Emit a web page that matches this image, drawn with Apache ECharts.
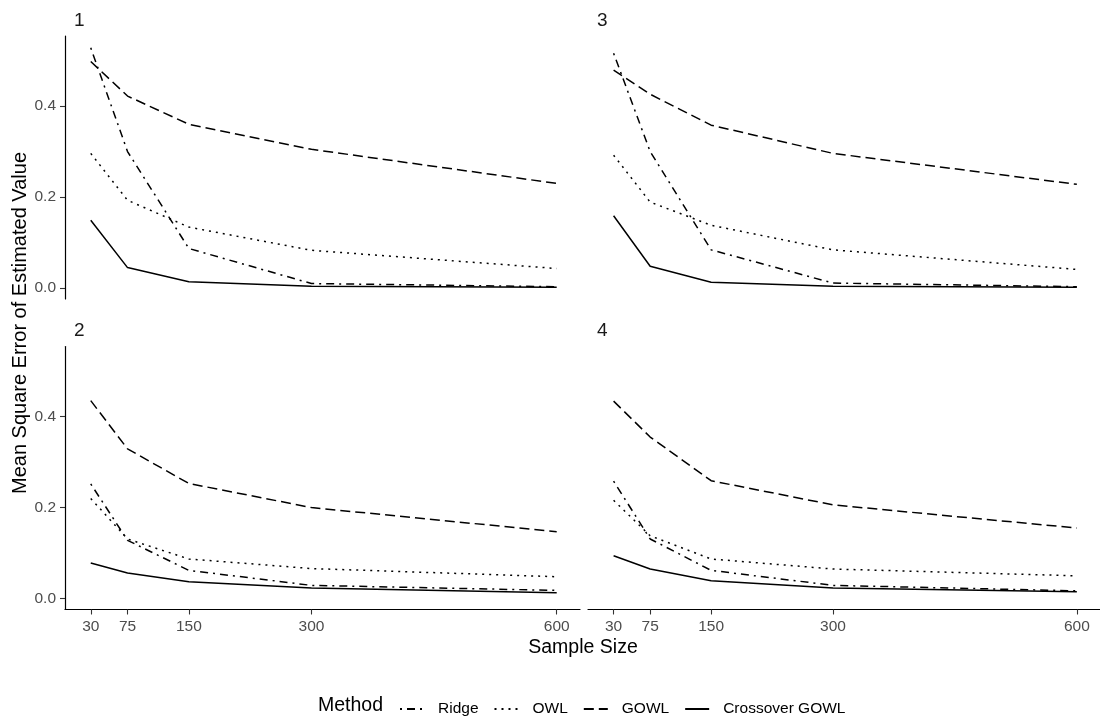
<!DOCTYPE html>
<html>
<head>
<meta charset="utf-8">
<title>Mean Square Error of Estimated Value</title>
<script src="https://cdn.jsdelivr.net/npm/echarts@6/dist/echarts.min.js"></script>
<style>
html, body { margin: 0; padding: 0; background: #fff; }
#chart { width: 1100px; height: 717px; }
</style>
</head>
<body>
<div id="chart"></div>
<script>
// sample sizes on the x axis
const sampleSizes = [30, 75, 150, 300, 600]
const yTicks = [0, 0.2, 0.4]
const methods = ['Ridge', 'OWL', 'GOWL', 'Crossover GOWL']
const panelLabels = ['1', '2', '3', '4']

// panel 1
const ridge1 = [0.528, 0.300, 0.087, 0.010, 0.003]
const owl1 = [0.296, 0.193, 0.134, 0.083, 0.043]
const gowl1 = [0.498, 0.422, 0.360, 0.305, 0.230]
const cross1 = [0.149, 0.045, 0.014, 0.004, 0.002]
// panel 2
const ridge2 = [0.252, 0.128, 0.062, 0.029, 0.018]
const owl2 = [0.220, 0.131, 0.087, 0.066, 0.048]
const gowl2 = [0.435, 0.329, 0.253, 0.200, 0.147]
const cross2 = [0.078, 0.056, 0.037, 0.023, 0.013]
// panel 3
const ridge3 = [0.516, 0.300, 0.084, 0.011, 0.003]
const owl3 = [0.292, 0.189, 0.138, 0.084, 0.041]
const gowl3 = [0.479, 0.426, 0.358, 0.296, 0.228]
const cross3 = [0.159, 0.048, 0.013, 0.004, 0.002]
// panel 4
const ridge4 = [0.258, 0.131, 0.062, 0.029, 0.017]
const owl4 = [0.216, 0.138, 0.087, 0.065, 0.050]
const gowl4 = [0.434, 0.355, 0.259, 0.206, 0.155]
const cross4 = [0.094, 0.065, 0.039, 0.023, 0.015]

const panelData = [
  [ridge1, owl1, gowl1, cross1],
  [ridge2, owl2, gowl2, cross2],
  [ridge3, owl3, gowl3, cross3],
  [ridge4, owl4, gowl4, cross4]
]

const FONT = 'Liberation Sans'
const dashes = {
  'Ridge': [2, 5, 8, 5],
  'OWL': [2, 5],
  'GOWL': [10, 5],
  'Crossover GOWL': 'solid'
}

// facet layout: 1 top-left, 3 top-right, 2 bottom-left, 4 bottom-right
const panelW = 515
const panelH = 263
const panelPos = [
  { left: 65, top: 36, col: 0, row: 0 },
  { left: 65, top: 346.5, col: 0, row: 1 },
  { left: 588, top: 36, col: 1, row: 0 },
  { left: 588, top: 346.5, col: 1, row: 1 }
]

const grids = []
const xAxes = []
const yAxes = []
const series = []
const graphics = []

panelPos.forEach((p, i) => {
  grids.push({ left: p.left, top: p.top, width: panelW, height: panelH, containLabel: false })
  const bottomRow = p.row === 1
  const leftCol = p.col === 0
  xAxes.push({
    type: 'value',
    gridIndex: i,
    min: -1.5,
    max: 628.5,
    splitLine: { show: false },
    axisLine: { show: bottomRow, onZero: false, lineStyle: { color: '#000', width: 1.2 } },
    axisTick: { show: bottomRow, length: 5, customValues: sampleSizes, lineStyle: { color: '#333', width: 1.1 } },
    axisLabel: { show: bottomRow, customValues: sampleSizes, margin: 9, color: '#4d4d4d', fontSize: 15.5, fontFamily: FONT }
  })
  yAxes.push({
    type: 'value',
    gridIndex: i,
    min: -0.024,
    max: 0.554,
    splitLine: { show: false },
    axisLine: { show: leftCol, onZero: false, lineStyle: { color: '#000', width: 1.2 } },
    axisTick: { show: leftCol, length: 5, customValues: yTicks, lineStyle: { color: '#333', width: 1.1 } },
    axisLabel: {
      show: leftCol, customValues: yTicks, margin: 9, color: '#4d4d4d', fontSize: 15.5, fontFamily: FONT,
      formatter: v => v.toFixed(1)
    }
  })
  methods.forEach((m, k) => {
    series.push({
      name: m,
      type: 'line',
      xAxisIndex: i,
      yAxisIndex: i,
      data: sampleSizes.map((x, j) => [x, panelData[i][k][j]]),
      symbol: 'none',
      silent: true,
      color: '#000',
      lineStyle: { color: '#000', width: 1.5, type: dashes[m] }
    })
  })
  graphics.push({
    type: 'text',
    left: p.left + 9,
    top: p.top - 25,
    style: { text: panelLabels[i], fontSize: 19, fontFamily: FONT, fill: '#1a1a1a' }
  })
})

graphics.push({
  type: 'text',
  left: 318,
  top: 696,
  style: { text: 'Method', fontSize: 19.5, fontFamily: FONT, fill: '#000' }
})
graphics.push({
  type: 'text',
  x: 583,
  y: 648,
  style: { text: 'Sample Size', fontSize: 19.5, fontFamily: FONT, fill: '#000', align: 'center', verticalAlign: 'middle' }
})
graphics.push({
  type: 'text',
  x: 20,
  y: 323,
  rotation: Math.PI / 2,
  style: { text: 'Mean Square Error of Estimated Value', fontSize: 20, fontFamily: FONT, fill: '#000', align: 'center', verticalAlign: 'middle' }
})

const option = {
  animation: false,
  backgroundColor: '#fff',
  grid: grids,
  xAxis: xAxes,
  yAxis: yAxes,
  series: series,
  legend: {
    data: methods,
    left: 394,
    top: 696,
    itemWidth: 24,
    itemHeight: 14,
    itemGap: 15,
    selectedMode: false,
    itemStyle: { opacity: 0 },
    textStyle: { fontSize: 15.5, fontFamily: FONT, color: '#000', padding: [0, 0, 0, 9] }
  },
  graphic: graphics
}

const myChart = echarts.init(document.getElementById('chart'))
myChart.setOption(option)
</script>
</body>
</html>
